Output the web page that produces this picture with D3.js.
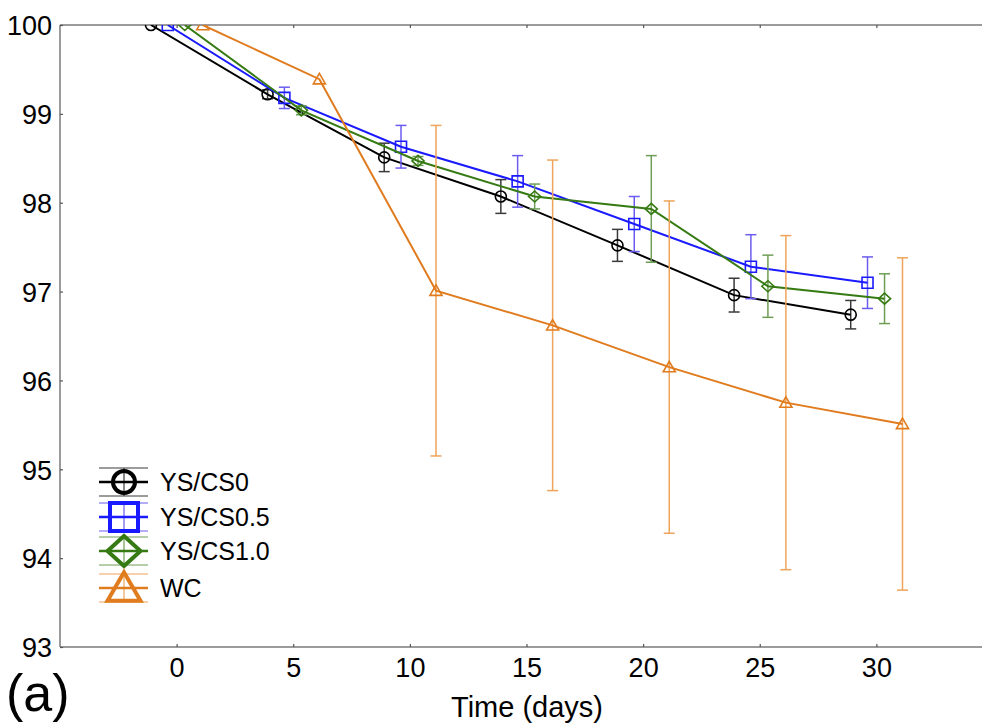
<!DOCTYPE html>
<html>
<head>
<meta charset="utf-8">
<script src="https://cdn.jsdelivr.net/npm/d3@7"></script>
<style>
  body { margin: 0; background: #fff; }
  svg { display: block; font-family: "Liberation Sans", Arial, sans-serif; }
</style>
</head>
<body>
<div id="chart"></div>
<script>
'use strict';

// sampling days and tick labels
var days = [0, 5, 10, 15, 20, 25, 30];
var xTicks = [0, 5, 10, 15, 20, 25, 30];
var yTicks = [93, 94, 95, 96, 97, 98, 99, 100];

// weight retention (%) per coating, mean and error
var ys0 = [100, 99.22, 98.51, 98.07, 97.52, 96.96, 96.74];
var ys0Err = [0, 0.05, 0.16, 0.19, 0.18, 0.19, 0.16];
var ys05 = [100, 99.18, 98.63, 98.24, 97.76, 97.28, 97.10];
var ys05Err = [0, 0.12, 0.24, 0.29, 0.31, 0.36, 0.29];
var ys10 = [100, 99.04, 98.47, 98.07, 97.93, 97.06, 96.92];
var ys10Err = [0, 0.05, 0.05, 0.14, 0.60, 0.35, 0.28];
var wc = [100, 99.39, 97.01, 96.62, 96.15, 95.75, 95.51];
var wcErr = [0, 0, 1.86, 1.86, 1.87, 1.88, 1.87];

var seriesNames = ['YS/CS0', 'YS/CS0.5', 'YS/CS1.0', 'WC'];

var width = 982, height = 724;
var plotLeft = 60, plotTop = 25, plotBottom = 647;

var x = d3.scaleLinear().domain([-5, 35]).range([plotLeft, 993]);
var y = d3.scaleLinear().domain([93, 100]).range([plotBottom, plotTop]);

var series = [
  { name: seriesNames[0], values: ys0, err: ys0Err, shift: -1.1, color: '#000000', errColor: '#3a3a3a', shape: 'circle' },
  { name: seriesNames[1], values: ys05, err: ys05Err, shift: -0.38, color: '#1a1aff', errColor: '#6a5cf0', shape: 'square' },
  { name: seriesNames[2], values: ys10, err: ys10Err, shift: 0.35, color: '#357a12', errColor: '#6e9e55', shape: 'diamond' },
  { name: seriesNames[3], values: wc, err: wcErr, shift: 1.12, color: '#e07b1e', errColor: '#eea45a', shape: 'triangle' }
];

var svg = d3.select('#chart').append('svg')
  .attr('width', width)
  .attr('height', height);

svg.append('defs').append('clipPath')
  .attr('id', 'plot-clip')
  .append('rect')
    .attr('x', plotLeft).attr('y', plotTop)
    .attr('width', width - plotLeft).attr('height', plotBottom - plotTop);

// marker path for a shape, centred at 0,0
function markerPath (shape, s) {
  var p = d3.path();
  if (shape === 'circle') {
    p.moveTo(s, 0); p.arc(0, 0, s, 0, 2 * Math.PI);
  } else if (shape === 'square') {
    p.rect(-s, -s, 2 * s, 2 * s);
  } else if (shape === 'diamond') {
    p.moveTo(0, -s); p.lineTo(s * 1.1, 0); p.lineTo(0, s); p.lineTo(-s * 1.1, 0); p.closePath();
  } else {
    p.moveTo(0, -s * 1.05); p.lineTo(s * 1.1, s * 0.85); p.lineTo(-s * 1.1, s * 0.85); p.closePath();
  }
  return p.toString();
}

// axes
var axisColor = '#7a7a7a';
var gx = svg.append('g')
  .attr('transform', 'translate(0,' + plotBottom + ')')
  .call(d3.axisBottom(x).tickValues(xTicks).tickSizeInner(-3).tickSizeOuter(0).tickPadding(11));
var gxTop = svg.append('g')
  .attr('transform', 'translate(0,' + plotTop + ')')
  .call(d3.axisTop(x).tickValues(xTicks).tickSizeInner(-3).tickSizeOuter(0).tickFormat(''));
var gy = svg.append('g')
  .attr('transform', 'translate(' + plotLeft + ',0)')
  .call(d3.axisLeft(y).tickValues(yTicks).tickFormat(d3.format('d')).tickSizeInner(-3).tickSizeOuter(0).tickPadding(8));

[gx, gxTop, gy].forEach(function (g) {
  g.select('.domain').attr('stroke', axisColor).attr('stroke-width', 1.5);
  g.selectAll('.tick line').attr('stroke', '#555').attr('stroke-width', 1.2);
  g.selectAll('.tick text').attr('fill', '#000').style('font-size', '27px');
});
gx.select('.domain').attr('d', 'M' + plotLeft + ',0H' + width);
gxTop.select('.domain').attr('d', 'M' + plotLeft + ',0H' + width);
gy.select('.domain').attr('d', 'M0,' + plotTop + 'V' + plotBottom);
gy.selectAll('.tick text').attr('dy', '0.36em');

svg.append('text')
  .attr('x', 527).attr('y', 717)
  .attr('text-anchor', 'middle')
  .style('font-size', '29px')
  .text('Time (days)');

svg.append('text')
  .attr('x', 6).attr('y', 711)
  .style('font-size', '52px')
  .text('(a)');

// data
var plot = svg.append('g').attr('clip-path', 'url(#plot-clip)');
var capHalf = 5.5;

series.forEach(function (s) {
  var pts = days.map(function (d, i) {
    return { t: d + s.shift, v: s.values[i], e: s.err[i] };
  });
  var g = plot.append('g');

  var bars = g.selectAll('.err').data(pts.filter(function (p) { return p.e > 0; }))
    .enter().append('g').attr('class', 'err')
    .attr('stroke', s.errColor).attr('stroke-width', 1.5).attr('fill', 'none');
  bars.append('line')
    .attr('x1', function (p) { return x(p.t); }).attr('x2', function (p) { return x(p.t); })
    .attr('y1', function (p) { return y(p.v + p.e); }).attr('y2', function (p) { return y(p.v - p.e); });
  bars.append('line')
    .attr('x1', function (p) { return x(p.t) - capHalf; }).attr('x2', function (p) { return x(p.t) + capHalf; })
    .attr('y1', function (p) { return y(p.v + p.e); }).attr('y2', function (p) { return y(p.v + p.e); });
  bars.append('line')
    .attr('x1', function (p) { return x(p.t) - capHalf; }).attr('x2', function (p) { return x(p.t) + capHalf; })
    .attr('y1', function (p) { return y(p.v - p.e); }).attr('y2', function (p) { return y(p.v - p.e); });

  g.append('path')
    .datum(pts)
    .attr('fill', 'none')
    .attr('stroke', s.color)
    .attr('stroke-width', 2)
    .attr('d', d3.line().x(function (p) { return x(p.t); }).y(function (p) { return y(p.v); }));

  g.selectAll('.mark').data(pts).enter().append('path')
    .attr('class', 'mark')
    .attr('transform', function (p) { return 'translate(' + x(p.t) + ',' + y(p.v) + ')'; })
    .attr('d', markerPath(s.shape, 5.5))
    .attr('fill', 'none')
    .attr('stroke', s.color)
    .attr('stroke-width', 1.6);
});

// legend
var legendY = [482, 517, 551, 588];
var legend = svg.append('g');
series.forEach(function (s, i) {
  var cy = legendY[i];
  var g = legend.append('g');
  [-14, 14].forEach(function (dy) {
    g.append('line')
      .attr('x1', 99).attr('x2', 148)
      .attr('y1', cy + dy).attr('y2', cy + dy)
      .attr('stroke', s.errColor).attr('stroke-width', 1.2);
  });
  g.append('line')
    .attr('x1', 124).attr('x2', 124)
    .attr('y1', cy - 14).attr('y2', cy + 14)
    .attr('stroke', s.errColor).attr('stroke-width', 1.2);
  g.append('line')
    .attr('x1', 99).attr('x2', 148)
    .attr('y1', cy).attr('y2', cy)
    .attr('stroke', s.color).attr('stroke-width', 2.5);
  g.append('path')
    .attr('transform', 'translate(124,' + cy + ')')
    .attr('d', markerPath(s.shape, s.shape === 'circle' ? 11 : s.shape === 'square' ? 14 : 15))
    .attr('fill', 'none')
    .attr('stroke', s.color)
    .attr('stroke-width', 4);
  g.append('text')
    .attr('x', 160).attr('y', cy)
    .attr('dy', '0.35em')
    .style('font-size', '25px')
    .text(s.name);
});
</script>
</body>
</html>
